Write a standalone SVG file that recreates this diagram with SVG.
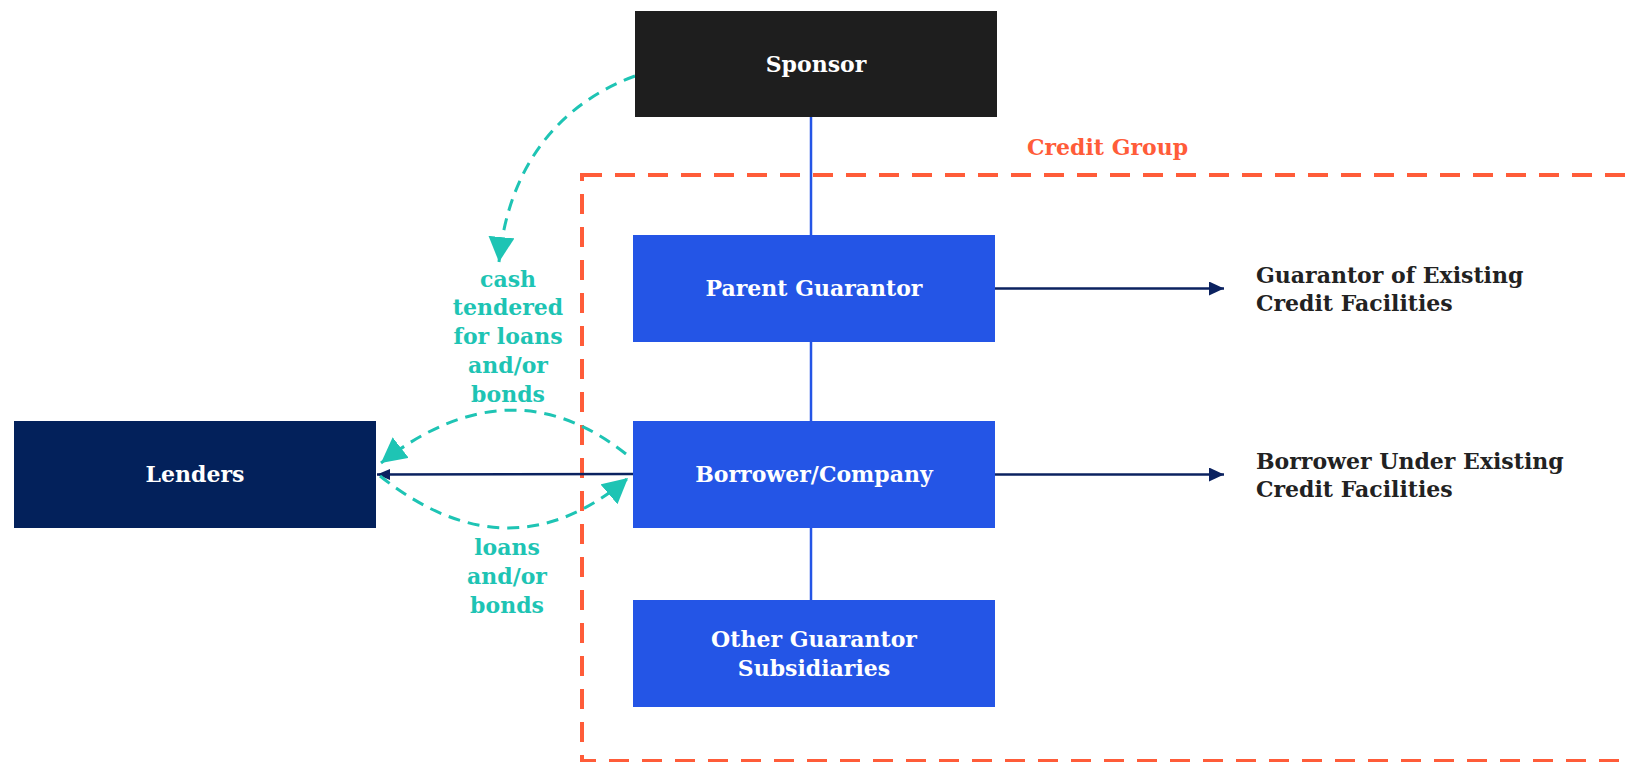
<svg xmlns="http://www.w3.org/2000/svg" width="1631" height="762" viewBox="0 0 1631 762">
<style>
.t{font-family:"DejaVu Serif","Liberation Serif",serif;font-weight:bold;font-size:22px;text-anchor:middle}
.w{fill:#ffffff}
.teal{fill:#1EC4B4}
.dark{fill:#222222;text-anchor:start}
.nav{stroke:#0B2260;stroke-width:2.5;fill:none}
.td{stroke:#1EC4B4;stroke-width:3;fill:none;stroke-dasharray:12 8}
</style>
<defs>
<marker id="an" markerUnits="userSpaceOnUse" markerWidth="16" markerHeight="16" refX="15" refY="7" orient="auto"><path d="M0,0 L15,7 L0,14 Z" fill="#0B2260"/></marker>
<marker id="as" markerUnits="userSpaceOnUse" markerWidth="14" markerHeight="12" refX="13" refY="5.5" orient="auto"><path d="M0,0 L13,5.5 L0,11 Z" fill="#0B2260"/></marker>
<marker id="at" markerUnits="userSpaceOnUse" markerWidth="26" markerHeight="28" refX="25" refY="13" orient="auto"><path d="M0,0 L25,13 L0,26 Z" fill="#1EC4B4"/></marker>
</defs>
<rect x="0" y="0" width="1631" height="762" fill="#ffffff"/>
<g id="credit-group">
<rect x="582" y="175" width="1100" height="586" fill="none" stroke="#FF5C39" stroke-width="4" stroke-dasharray="20 13"/>
<text class="t" x="1027" y="155" style="text-anchor:start;fill:#FF5C39">Credit Group</text>
</g>
<g id="connectors">
<line x1="811" y1="117" x2="811" y2="706" stroke="#2455E6" stroke-width="2.5"/>
<line class="nav" x1="995" y1="288.5" x2="1224" y2="288.5" marker-end="url(#an)"/>
<line class="nav" x1="995" y1="474.5" x2="1224" y2="474.5" marker-end="url(#an)"/>
<line class="nav" x1="633" y1="474" x2="377" y2="474.5" marker-end="url(#as)"/>
<path class="td" d="M635,76 C575,98 510,150 499,262" marker-end="url(#at)"/>
<path class="td" d="M626,454 Q510,362 381,463" marker-end="url(#at)"/>
<path class="td" d="M380,476 Q510,579 628,478" marker-end="url(#at)"/>
</g>
<g id="sponsor">
<rect x="635" y="11" width="362" height="106" fill="#1E1E1E"/>
<text class="t w" x="816" y="72">Sponsor</text>
</g>
<g id="parent-guarantor">
<rect x="633" y="235" width="362" height="107" fill="#2455E6"/>
<text class="t w" x="814" y="296">Parent Guarantor</text>
</g>
<g id="borrower">
<rect x="633" y="421" width="362" height="107" fill="#2455E6"/>
<text class="t w" x="814" y="482">Borrower/Company</text>
</g>
<g id="other-guarantor">
<rect x="633" y="600" width="362" height="107" fill="#2455E6"/>
<text class="t w" x="814" y="647">Other Guarantor</text>
<text class="t w" x="814" y="676">Subsidiaries</text>
</g>
<g id="lenders">
<rect x="14" y="421" width="362" height="107" fill="#03215B"/>
<text class="t w" x="195" y="482">Lenders</text>
</g>
<g id="label-guarantor-existing">
<text class="t dark" x="1256" y="283">Guarantor of Existing</text>
<text class="t dark" x="1256" y="311">Credit Facilities</text>
</g>
<g id="label-borrower-existing">
<text class="t dark" x="1256" y="469">Borrower Under Existing</text>
<text class="t dark" x="1256" y="497">Credit Facilities</text>
</g>
<g id="label-cash">
<text class="t teal" x="508" y="287">cash</text>
<text class="t teal" x="508" y="315">tendered</text>
<text class="t teal" x="508" y="344">for loans</text>
<text class="t teal" x="508" y="373">and/or</text>
<text class="t teal" x="508" y="402">bonds</text>
</g>
<g id="label-loans">
<text class="t teal" x="507" y="555">loans</text>
<text class="t teal" x="507" y="584">and/or</text>
<text class="t teal" x="507" y="613">bonds</text>
</g>
</svg>
